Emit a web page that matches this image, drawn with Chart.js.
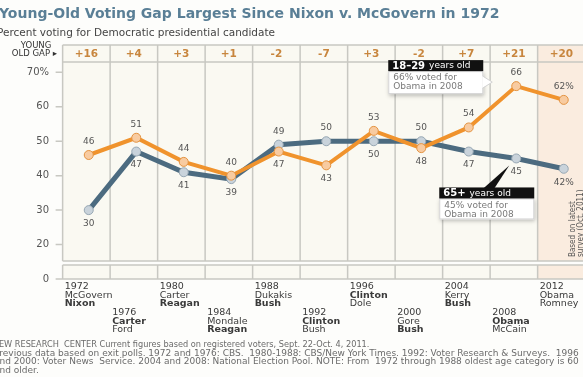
<!DOCTYPE html>
<html lang="en">
<head>
<meta charset="UTF-8">
<title>Young-Old Voting Gap</title>
<style>
  body { margin: 0; background: #fdfdfb; font-family: 'DejaVu Sans', Verdana, sans-serif; overflow: hidden; }
  .frame { position: relative; width: 583px; height: 377px; overflow: hidden; }
  #vote-chart { position: absolute; left: 0; top: 0; }
  .title { position: absolute; left: -1px; top: 5px; font-size: 14px; font-weight: bold; color: #5a7f96; white-space: nowrap; }
  .subtitle { position: absolute; left: -3px; top: 26px; font-size: 10.5px; color: #444; white-space: nowrap; }
  .source { position: absolute; left: -6px; top: 340px; font-size: 9px; line-height: 8.6px; color: #6b6b6b; white-space: nowrap; }
  .source .lead { font-size: 8.2px; }
</style>
</head>
<body>
<div class="frame">
  <canvas id="vote-chart" width="593" height="377"></canvas>
  <div class="title">Young-Old Voting Gap Largest Since Nixon v. McGovern in 1972</div>
  <div class="subtitle">Percent voting for Democratic presidential candidate</div>
  <div class="source">
    <span class="lead">PEW RESEARCH&nbsp; CENTER Current figures based on registered voters, Sept. 22-Oct. 4, 2011.</span><br>
    Previous data based on exit polls. 1972 and 1976: CBS.&nbsp; 1980-1988: CBS/New York Times. 1992: Voter Research &amp; Surveys.&nbsp; 1996<br>
    and 2000: Voter News&nbsp; Service. 2004 and 2008: National Election Pool. NOTE: From&nbsp; 1972 through 1988 oldest age category is 60<br>
    and older.
  </div>
</div>

<script src="https://cdn.jsdelivr.net/npm/chart.js"></script>
<script>
  // election years and candidates
  const years = ['1972', '1976', '1980', '1984', '1988', '1992', '1996', '2000', '2004', '2008', '2012'];
  const demCandidates = ['McGovern', 'Carter', 'Carter', 'Mondale', 'Dukakis', 'Clinton', 'Clinton', 'Gore', 'Kerry', 'Obama', 'Obama'];
  const repCandidates = ['Nixon', 'Ford', 'Reagan', 'Reagan', 'Bush', 'Bush', 'Dole', 'Bush', 'Bush', 'McCain', 'Romney'];
  const winners = ['R', 'D', 'R', 'R', 'R', 'D', 'D', 'R', 'R', 'D', ''];

  // percent voting Democratic
  const young = [46, 51, 44, 40, 47, 43, 53, 48, 54, 66, 62];   // 18-29
  const old = [30, 47, 41, 39, 49, 50, 50, 50, 47, 45, 42];     // 65+
  const gapLabels = ['+16', '+4', '+3', '+1', '-2', '-7', '+3', '-2', '+7', '+21', '+20'];

  const yTicks = [10, 20, 30, 40, 50, 60, 70];   // 10 is drawn as "0" below the axis break

  // label placement for each point
  const youngLabelSide = [-1, -1, -1, -1, 1, 1, -1, 1, -1, -1, -1];
  const oldLabelSide = [1, 1, 1, 1, -1, -1, 1, -1, 1, 1, 1];

  const FONT = "'DejaVu Sans', Verdana, sans-serif";
  const LINE = '#c8c8c2';

  function colEdge(chart, i) {
    const xs = chart.scales.x;
    const step = xs.getPixelForValue(1) - xs.getPixelForValue(0);
    return xs.getPixelForValue(i) - step * 0.55;
  }

  // table frame: gap row, columns, axis break, tick marks
  const framePlugin = {
    id: 'frame',
    beforeDatasetsDraw(chart) {
      const ctx = chart.ctx;
      const { top, bottom } = chart.chartArea;
      const ys = chart.scales.y;
      const W = chart.width;
      const gapTop = top - 17;
      const boxBottom = bottom - 18;
      const bandTop = bottom - 14;
      const boxLeft = colEdge(chart, 0);
      const lastEdge = colEdge(chart, years.length - 1);
      const step = colEdge(chart, 1) - colEdge(chart, 0);

      ctx.save();
      ctx.fillStyle = '#faf9f2';
      ctx.fillRect(boxLeft, gapTop, W - boxLeft, boxBottom - gapTop);
      ctx.fillRect(boxLeft, bandTop, W - boxLeft, bottom - bandTop);
      ctx.fillStyle = '#faecdf';
      ctx.fillRect(lastEdge, gapTop, W - lastEdge, boxBottom - gapTop);
      ctx.fillRect(lastEdge, bandTop, W - lastEdge, bottom - bandTop);

      ctx.strokeStyle = LINE;
      ctx.lineWidth = 1.5;
      ctx.beginPath();
      [gapTop, top, boxBottom, bandTop, bottom].forEach(y => {
        ctx.moveTo(boxLeft, y);
        ctx.lineTo(W, y);
      });
      for (let i = 0; i < years.length; i++) {
        const x = colEdge(chart, i);
        ctx.moveTo(x, gapTop);
        ctx.lineTo(x, boxBottom);
        ctx.moveTo(x, bandTop);
        ctx.lineTo(x, bottom);
      }
      yTicks.forEach(v => {
        const y = ys.getPixelForValue(v);
        ctx.moveTo(boxLeft - 7, y);
        ctx.lineTo(boxLeft, y);
      });
      ctx.stroke();

      // young-old gap row
      ctx.fillStyle = '#c8863e';
      ctx.font = 'bold 10.5px ' + FONT;
      ctx.textAlign = 'center';
      ctx.textBaseline = 'middle';
      gapLabels.forEach((g, i) => {
        ctx.fillText(g, colEdge(chart, i) + step / 2, gapTop + 9);
      });
      ctx.fillStyle = '#333';
      ctx.font = '8.5px ' + FONT;
      ctx.fillText('YOUNG', 36, gapTop + 1);
      ctx.textAlign = 'right';
      ctx.fillText('OLD GAP \u25B8', 57, gapTop + 9);
      ctx.restore();
    }
  };

  function blackTag(ctx, x, y, w, bold, rest) {
    ctx.fillStyle = '#111';
    ctx.fillRect(x, y, w, 11);
    ctx.fillStyle = '#fff';
    ctx.textAlign = 'left';
    ctx.textBaseline = 'middle';
    ctx.font = 'bold 10px ' + FONT;
    ctx.fillText(bold, x + 4, y + 6);
    const bw = ctx.measureText(bold).width;
    ctx.font = '9px ' + FONT;
    ctx.fillText(rest, x + 4 + bw + 4, y + 6);
  }

  function noteBox(ctx, x, y, w, h, lines) {
    ctx.save();
    ctx.shadowColor = 'rgba(0,0,0,0.25)';
    ctx.shadowBlur = 4;
    ctx.shadowOffsetX = 1;
    ctx.shadowOffsetY = 2;
    ctx.fillStyle = '#fff';
    ctx.fillRect(x, y, w, h);
    ctx.restore();
    ctx.strokeStyle = '#d4d4d4';
    ctx.lineWidth = 1;
    ctx.strokeRect(x + 0.5, y + 0.5, w - 1, h - 1);
    ctx.fillStyle = '#7a7a7a';
    ctx.font = '9px ' + FONT;
    ctx.textAlign = 'left';
    ctx.textBaseline = 'middle';
    lines.forEach((t, k) => ctx.fillText(t, x + 5, y + 7 + k * 9));
  }

  // value labels, candidate labels, callouts
  const textPlugin = {
    id: 'texts',
    afterDatasetsDraw(chart) {
      const ctx = chart.ctx;
      const { bottom } = chart.chartArea;
      const last = years.length - 1;
      ctx.save();

      ctx.fillStyle = '#555';
      ctx.font = '9px ' + FONT;
      ctx.textAlign = 'center';
      ctx.textBaseline = 'middle';
      [[0, young, youngLabelSide], [1, old, oldLabelSide]].forEach(([d, vals, side]) => {
        chart.getDatasetMeta(d).data.forEach((pt, i) => {
          const txt = i === last ? vals[i] + '%' : String(vals[i]);
          ctx.fillText(txt, pt.x, pt.y + side[i] * 13.5);
        });
      });

      // candidates under each column, alternating rows
      ctx.textAlign = 'left';
      ctx.fillStyle = '#3a3a3a';
      years.forEach((yr, i) => {
        const x = colEdge(chart, i) + 2;
        const y0 = bottom + (i % 2 === 0 ? 8 : 34);
        ctx.font = '9.5px ' + FONT;
        ctx.fillText(yr, x, y0);
        ctx.font = (winners[i] === 'D' ? 'bold ' : '') + '9.5px ' + FONT;
        ctx.fillText(demCandidates[i], x, y0 + 8.5);
        ctx.font = (winners[i] === 'R' ? 'bold ' : '') + '9.5px ' + FONT;
        ctx.fillText(repCandidates[i], x, y0 + 17);
      });

      // callouts tied to the 2008 points
      const py = chart.getDatasetMeta(0).data[9];
      const po = chart.getDatasetMeta(1).data[9];

      const yx = py.x - 128, yy = py.y - 26;
      noteBox(ctx, yx, yy + 11, 95, 23, ['66% voted for', 'Obama in 2008']);
      ctx.fillStyle = '#fff';
      ctx.beginPath();
      ctx.moveTo(yx + 94, yy + 16);
      ctx.lineTo(yx + 104, yy + 22);
      ctx.lineTo(yx + 94, yy + 28);
      ctx.closePath();
      ctx.fill();
      ctx.strokeStyle = '#d4d4d4';
      ctx.beginPath();
      ctx.moveTo(yx + 94.5, yy + 16);
      ctx.lineTo(yx + 104, yy + 22);
      ctx.lineTo(yx + 94.5, yy + 28);
      ctx.stroke();
      blackTag(ctx, yx, yy, 95, '18\u201329', 'years old');

      const ox = po.x - 77, oy = po.y + 29;
      ctx.fillStyle = '#111';
      ctx.beginPath();
      ctx.moveTo(ox + 44, oy + 1);
      ctx.lineTo(po.x - 7, po.y + 7);
      ctx.lineTo(ox + 55, oy + 1);
      ctx.closePath();
      ctx.fill();
      noteBox(ctx, ox, oy + 11, 95, 21, ['45% voted for', 'Obama in 2008']);
      blackTag(ctx, ox, oy, 95, '65+', 'years old');

      // note on the 2012 column
      ctx.save();
      ctx.fillStyle = '#555';
      ctx.font = "8px 'Liberation Sans Narrow', 'DejaVu Sans Condensed', sans-serif";
      ctx.textAlign = 'left';
      ctx.textBaseline = 'middle';
      ctx.translate(573, bottom - 22);
      ctx.rotate(-Math.PI / 2);
      ctx.fillText('Based on latest', 0, 0);
      ctx.fillText('survey (Oct. 2011)', 0, 8);
      ctx.restore();

      ctx.restore();
    }
  };

  const ctx = document.getElementById('vote-chart').getContext('2d');
  new Chart(ctx, {
    type: 'line',
    data: {
      labels: years,
      datasets: [
        {
          label: '18-29 years old',
          data: young,
          borderColor: '#f0932d',
          borderWidth: 4,
          pointRadius: 4.5,
          pointBackgroundColor: '#f8cba0',
          pointBorderColor: '#e49443',
          pointBorderWidth: 1,
          tension: 0
        },
        {
          label: '65+ years old',
          data: old,
          borderColor: '#4c6b80',
          borderWidth: 5,
          pointRadius: 4.5,
          pointBackgroundColor: '#c9d3db',
          pointBorderColor: '#98a8b4',
          pointBorderWidth: 1,
          tension: 0
        }
      ]
    },
    options: {
      responsive: false,
      animation: false,
      layout: { padding: { top: 62, bottom: 98, left: 0, right: 0 } },
      scales: {
        x: { display: false, offset: true },
        y: {
          min: 10,
          max: 73,
          afterFit: s => { s.width = 65; },
          afterBuildTicks: s => { s.ticks = yTicks.map(v => ({ value: v })); },
          grid: { display: false, drawTicks: false },
          border: { display: false },
          ticks: {
            padding: 16,
            color: '#555',
            font: { family: FONT, size: 10 },
            callback: v => v === 10 ? '0' : v === 70 ? '70%' : v
          }
        }
      },
      plugins: {
        legend: { display: false },
        tooltip: { enabled: false }
      }
    },
    plugins: [framePlugin, textPlugin]
  });
</script>
</body>
</html>
